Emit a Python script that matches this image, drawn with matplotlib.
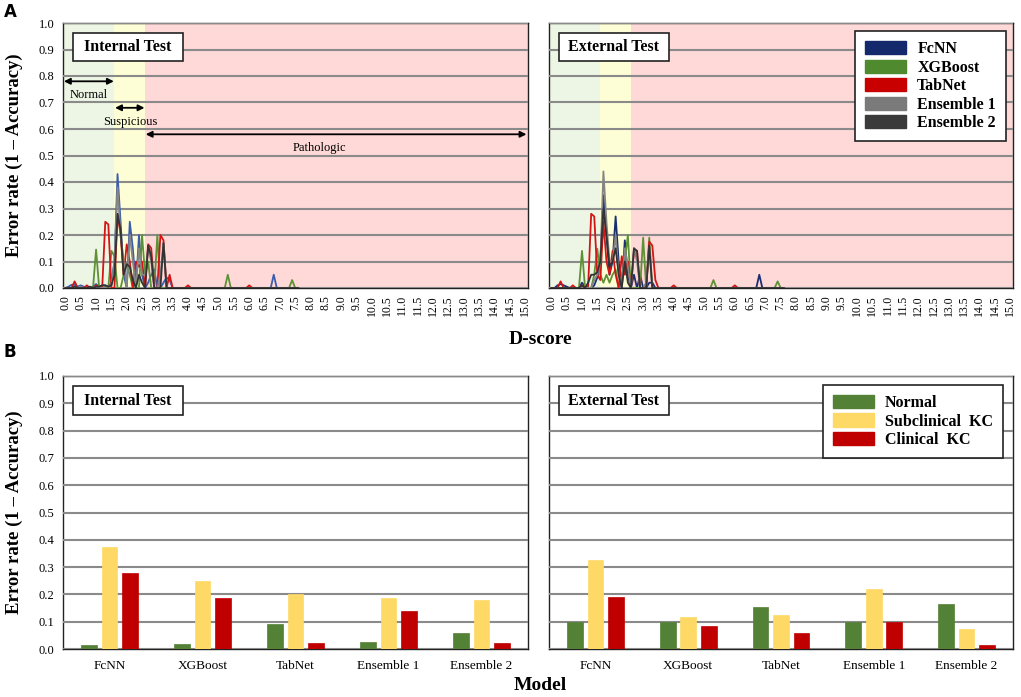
import numpy as np
import matplotlib
matplotlib.use("Agg")
import matplotlib.pyplot as plt
from matplotlib.patches import Patch, Rectangle

plt.rcParams['font.family'] = ['Liberation Serif', 'DejaVu Serif']

# ---------------- data ----------------
d_score = [round(0.1 * i, 1) for i in range(77)]   # 0.0 ... 7.6

int_fcnn = [0, 0.005, 0.012, 0.012, 0.005, 0.01, 0.005, 0, 0, 0.005,
            0.015, 0.005, 0.01, 0.01, 0.005, 0.02, 0.1, 0.43, 0.25, 0.05,
            0, 0.25, 0.15, 0, 0.2, 0.05, 0, 0.02, 0.05, 0.07,
            0, 0, 0.02, 0.04, 0.03, 0, 0, 0, 0, 0,
            0, 0, 0, 0, 0, 0, 0, 0, 0, 0,
            0, 0, 0, 0, 0, 0, 0, 0, 0, 0,
            0, 0, 0, 0, 0, 0, 0, 0, 0.05, 0,
            0, 0, 0, 0, 0, 0, 0]
int_xgb = [0, 0, 0, 0.005, 0, 0, 0, 0, 0, 0,
           0.145, 0, 0, 0, 0, 0.14, 0.12, 0, 0, 0.05,
           0.09, 0.05, 0, 0, 0, 0.2, 0.05, 0.1, 0, 0,
           0.2, 0, 0, 0, 0, 0, 0, 0, 0, 0,
           0, 0, 0, 0, 0, 0, 0, 0, 0, 0,
           0, 0, 0, 0.05, 0, 0, 0, 0, 0, 0,
           0, 0, 0, 0, 0, 0, 0, 0, 0, 0,
           0, 0, 0, 0, 0.03, 0, 0]
int_tab = [0, 0, 0, 0.025, 0, 0, 0, 0.01, 0, 0,
           0.01, 0, 0, 0.25, 0.24, 0, 0, 0.28, 0.2, 0.05,
           0.165, 0.1, 0, 0.1, 0.08, 0.1, 0, 0.165, 0.15, 0,
           0, 0.2, 0.18, 0, 0.05, 0, 0, 0, 0, 0,
           0.01, 0, 0, 0, 0, 0, 0, 0, 0, 0,
           0, 0, 0, 0, 0, 0, 0, 0, 0, 0,
           0.01, 0, 0, 0, 0, 0, 0, 0, 0, 0,
           0, 0, 0, 0, 0, 0, 0]
int_ens1 = [0, 0, 0, 0, 0, 0.005, 0, 0, 0, 0,
            0.005, 0, 0, 0.005, 0.005, 0.01, 0.1, 0.38, 0.2, 0.1,
            0, 0.2, 0.1, 0, 0.15, 0.05, 0.05, 0.15, 0.1, 0,
            0, 0.05, 0.17, 0, 0, 0, 0, 0, 0, 0,
            0, 0, 0, 0, 0, 0, 0, 0, 0, 0,
            0, 0, 0, 0, 0, 0, 0, 0, 0, 0,
            0, 0, 0, 0, 0, 0, 0, 0, 0, 0,
            0, 0, 0, 0, 0, 0, 0]
int_ens2 = [0, 0, 0, 0.005, 0, 0, 0, 0, 0.005, 0,
            0.005, 0.005, 0.01, 0.01, 0.005, 0.01, 0.05, 0.28, 0.22, 0.05,
            0.09, 0.08, 0.03, 0, 0.05, 0.02, 0, 0.16, 0.12, 0,
            0, 0, 0.17, 0, 0, 0, 0, 0, 0, 0,
            0, 0, 0, 0, 0, 0, 0, 0, 0, 0,
            0, 0, 0, 0, 0, 0, 0, 0, 0, 0,
            0, 0, 0, 0, 0, 0, 0, 0, 0, 0,
            0, 0, 0, 0, 0, 0, 0]

ext_fcnn = [0, 0, 0.01, 0.015, 0.01, 0.005, 0, 0, 0, 0,
            0.02, 0.005, 0, 0, 0.01, 0.04, 0.1, 0.35, 0.2, 0.05,
            0.1, 0.27, 0.1, 0, 0.18, 0.05, 0, 0.05, 0, 0.05,
            0, 0, 0.02, 0.02, 0, 0, 0, 0, 0, 0,
            0, 0, 0, 0, 0, 0, 0, 0, 0, 0,
            0, 0, 0, 0, 0, 0, 0, 0, 0, 0,
            0, 0, 0, 0, 0, 0, 0, 0, 0.05, 0,
            0, 0, 0, 0, 0, 0, 0]
ext_xgb = [0, 0, 0, 0, 0, 0, 0, 0, 0, 0,
           0.14, 0, 0, 0, 0.05, 0.148, 0.05, 0.02, 0.05, 0.02,
           0.05, 0.07, 0, 0.05, 0.1, 0.2, 0, 0, 0, 0,
           0.19, 0, 0.19, 0, 0, 0, 0, 0, 0, 0,
           0, 0, 0, 0, 0, 0, 0, 0, 0, 0,
           0, 0, 0, 0.03, 0, 0, 0, 0, 0, 0,
           0, 0, 0, 0, 0, 0, 0, 0, 0, 0,
           0, 0, 0, 0, 0.025, 0, 0]
ext_tab = [0, 0, 0, 0.025, 0, 0, 0, 0.01, 0, 0,
           0.01, 0, 0.005, 0.28, 0.27, 0.05, 0.03, 0.25, 0.1, 0.05,
           0.14, 0.05, 0, 0.12, 0.05, 0.1, 0, 0.14, 0.14, 0,
           0, 0, 0.175, 0.16, 0.03, 0, 0, 0, 0, 0,
           0.01, 0, 0, 0, 0, 0, 0, 0, 0, 0,
           0, 0, 0, 0, 0, 0, 0, 0, 0, 0,
           0.01, 0, 0, 0, 0, 0, 0, 0, 0, 0,
           0, 0, 0, 0, 0, 0, 0]
ext_ens1 = [0, 0, 0, 0, 0, 0, 0, 0, 0, 0,
            0, 0, 0, 0, 0.03, 0.05, 0.1, 0.44, 0.25, 0.1,
            0.1, 0.2, 0.05, 0, 0.15, 0.08, 0, 0.15, 0.1, 0,
            0, 0.02, 0.15, 0, 0, 0, 0, 0, 0, 0,
            0, 0, 0, 0, 0, 0, 0, 0, 0, 0,
            0, 0, 0, 0, 0, 0, 0, 0, 0, 0,
            0, 0, 0, 0, 0, 0, 0, 0, 0, 0,
            0, 0, 0, 0, 0, 0, 0]
ext_ens2 = [0, 0, 0, 0, 0, 0, 0, 0, 0, 0,
            0.01, 0, 0.02, 0.05, 0.05, 0.06, 0.1, 0.3, 0.2, 0.08,
            0.1, 0.15, 0.05, 0, 0.1, 0.02, 0, 0.15, 0.14, 0,
            0, 0, 0.16, 0, 0, 0, 0, 0, 0, 0,
            0, 0, 0, 0, 0, 0, 0, 0, 0, 0,
            0, 0, 0, 0, 0, 0, 0, 0, 0, 0,
            0, 0, 0, 0, 0, 0, 0, 0, 0, 0,
            0, 0, 0, 0, 0, 0, 0]

series_names = ["FcNN", "XGBoost", "TabNet", "Ensemble 1", "Ensemble 2"]
int_series = [int_fcnn, int_xgb, int_tab, int_ens1, int_ens2]
ext_series = [ext_fcnn, ext_xgb, ext_tab, ext_ens1, ext_ens2]

models = ["FcNN", "XGBoost", "TabNet", "Ensemble 1", "Ensemble 2"]
classes = ["Normal", "Subclinical  KC", "Clinical  KC"]
int_normal = [0.015, 0.018, 0.091, 0.026, 0.058]
int_subclin = [0.374, 0.249, 0.202, 0.188, 0.179]
int_clin = [0.277, 0.185, 0.023, 0.139, 0.023]
ext_normal = [0.099, 0.099, 0.155, 0.099, 0.164]
ext_subclin = [0.327, 0.119, 0.123, 0.220, 0.075]
ext_clin = [0.190, 0.086, 0.057, 0.100, 0.015]

zones = [("Normal", 1.6), ("Suspicious", 2.6), ("Pathologic", 15.1)]

# ---------------- style ----------------
line_colors_int = ["#3A5DAE", "#5E9136", "#D41515", "#858585", "#333333"]
line_colors_ext = ["#1B2F70", "#5E9136", "#D41515", "#858585", "#333333"]
legend_colors = ["#13296B", "#4F8A2E", "#C80000", "#7A7A7A", "#3A3A3A"]
bar_colors = ["#538135", "#FFD966", "#C00000"]
zone_colors = ["#EDF5E4", "#FEFED6", "#FFD8D8"]
grid_color = "#8A8A8A"

W, H = 1021, 697
fig = plt.figure(figsize=(W / 100, H / 100), dpi=100)


def ax_rect(x0, y0, x1, y1):
    return [x0 / W, 1 - y1 / H, (x1 - x0) / W, (y1 - y0) / H]


ax_tl = fig.add_axes(ax_rect(63, 23, 528, 288))
ax_tr = fig.add_axes(ax_rect(549, 23, 1013, 288))
ax_bl = fig.add_axes(ax_rect(63, 376, 528, 649))
ax_br = fig.add_axes(ax_rect(549, 376, 1013, 649))


def style_axes(ax, show_ylabels=True):
    ax.set_ylim(0, 1.0)
    ax.set_yticks(np.arange(0, 1.01, 0.1))
    ax.yaxis.grid(True, color=grid_color, linewidth=1.5, zorder=1)
    ax.set_axisbelow(False)
    for s in ax.spines.values():
        s.set_color("#222222")
        s.set_linewidth(1.0)
    ax.tick_params(axis="y", length=0, pad=6, labelsize=9)
    if show_ylabels:
        ax.set_yticklabels([f"{v:.1f}" for v in np.arange(0, 1.01, 0.1)])
    else:
        ax.set_yticklabels([])


def title_box(ax, text):
    ax.add_patch(Rectangle((0.021, 0.856), 0.238, 0.106, transform=ax.transAxes,
                           facecolor="white", edgecolor="#222222", linewidth=1.2, zorder=6))
    ax.text(0.14, 0.909, text, transform=ax.transAxes, ha="center", va="center",
            fontsize=11.5, fontweight="bold", zorder=7)


xt = np.arange(0, 15.01, 0.5)
for ax, series, cols, label in [(ax_tl, int_series, line_colors_int, "Internal Test"),
                                (ax_tr, ext_series, line_colors_ext, "External Test")]:
    style_axes(ax, show_ylabels=(ax is ax_tl))
    ax.set_xlim(-0.08, 15.1)
    start = -0.08
    for (name, end), c in zip(zones, zone_colors):
        ax.axvspan(start, end, color=c, zorder=0, linewidth=0)
        start = end
    for vals, c in zip(series, cols):
        ax.plot(d_score, vals, color=c, linewidth=1.3, zorder=3)
    ax.set_xticks(xt)
    ax.set_xticklabels([f"{v:.1f}" for v in xt], rotation=90, fontsize=8.5)
    ax.tick_params(axis="x", length=0, pad=5)
    title_box(ax, label)

# zone arrows in internal panel
arrow_kw = dict(arrowstyle="<|-|>", color="black", lw=1.3, mutation_scale=9, shrinkA=0, shrinkB=0)
ax_tl.annotate("", xy=(-0.05, 0.78), xytext=(1.58, 0.78), arrowprops=arrow_kw, zorder=5)
ax_tl.text(0.75, 0.728, "Normal", ha="center", va="center", fontsize=9)
ax_tl.annotate("", xy=(1.62, 0.68), xytext=(2.58, 0.68), arrowprops=arrow_kw, zorder=5)
ax_tl.text(2.12, 0.628, "Suspicious", ha="center", va="center", fontsize=9)
ax_tl.annotate("", xy=(2.62, 0.58), xytext=(15.05, 0.58), arrowprops=arrow_kw, zorder=5)
ax_tl.text(8.3, 0.528, "Pathologic", ha="center", va="center", fontsize=9)

legend_kw = dict(loc="upper right", frameon=True, fancybox=False, edgecolor="#222222", framealpha=1,
                 prop={"family": "Liberation Serif", "weight": "bold", "size": 11.5},
                 handlelength=2.6, handleheight=0.9, handletextpad=0.7,
                 labelspacing=0.15, borderpad=0.6, borderaxespad=0)

# legend top
handles = [Patch(facecolor=c, edgecolor=c) for c in legend_colors]
leg = ax_tr.legend(handles, series_names, bbox_to_anchor=(0.984, 0.968), **legend_kw)
leg.get_frame().set_linewidth(1.2)
leg.set_zorder(8)

# bars
x = np.arange(len(models))
bw = 0.17
step = 0.22
for ax, data, label in [(ax_bl, [int_normal, int_subclin, int_clin], "Internal Test"),
                        (ax_br, [ext_normal, ext_subclin, ext_clin], "External Test")]:
    style_axes(ax, show_ylabels=(ax is ax_bl))
    ax.set_xlim(-0.5, len(models) - 0.5)
    for k, (vals, c) in enumerate(zip(data, bar_colors)):
        ax.bar(x + (k - 1) * step, vals, width=bw, color=c, edgecolor=c, linewidth=0.5, zorder=4)
    ax.set_xticks(x)
    ax.set_xticklabels(models, fontsize=9.5)
    ax.tick_params(axis="x", length=0, pad=8)
    title_box(ax, label)

handles_b = [Patch(facecolor=c, edgecolor=c) for c in bar_colors]
leg2 = ax_br.legend(handles_b, classes, bbox_to_anchor=(0.978, 0.966), **legend_kw)
leg2.get_frame().set_linewidth(1.2)
leg2.set_zorder(8)

# labels
fig.text(14 / W, 1 - 155 / H, "Error rate (1 \u2013 Accuracy)", rotation=90, ha="center", va="center",
         fontsize=13.5, fontweight="bold")
fig.text(14 / W, 1 - 512 / H, "Error rate (1 \u2013 Accuracy)", rotation=90, ha="center", va="center",
         fontsize=13.5, fontweight="bold")
fig.text(540 / W, 1 - 340 / H, "D-score", ha="center", va="center", fontsize=14, fontweight="bold")
fig.text(540 / W, 1 - 686 / H, "Model", ha="center", va="center", fontsize=14, fontweight="bold")
fig.text(10 / W, 1 - 12 / H, "A", ha="center", va="center", fontsize=12, fontweight="bold",
         family="DejaVu Sans")
fig.text(10 / W, 1 - 352 / H, "B", ha="center", va="center", fontsize=12, fontweight="bold",
         family="DejaVu Sans")

fig.savefig("out.png", dpi=100)
